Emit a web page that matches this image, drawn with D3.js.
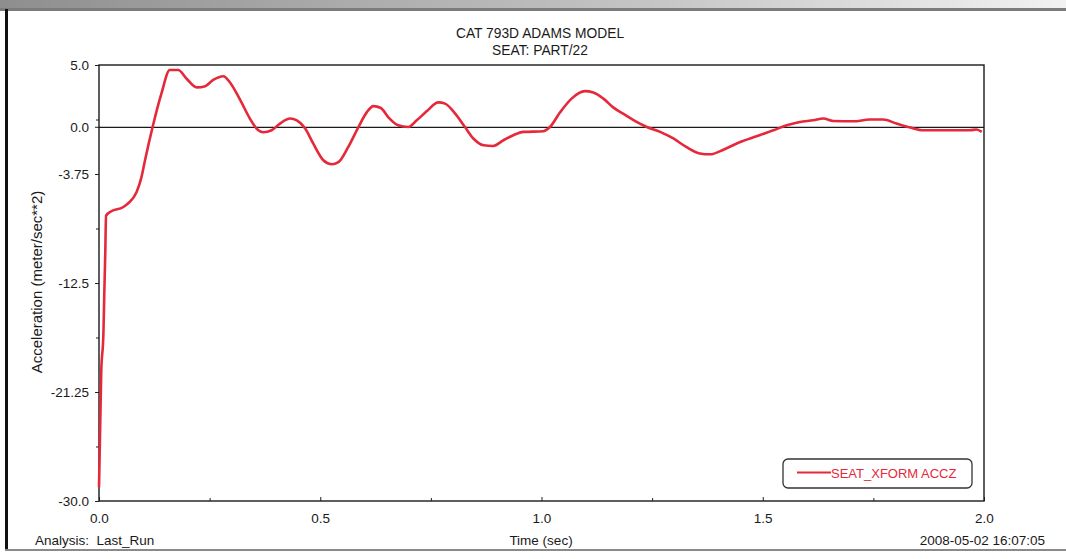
<!DOCTYPE html>
<html>
<head>
<meta charset="utf-8">
<script src="https://cdn.jsdelivr.net/npm/d3@7"></script>
<style>
  html, body { margin: 0; padding: 0; background: #fff; }
  svg { display: block; }
  text { font-family: "Liberation Sans", Arial, sans-serif; fill: #1a1a1a; }
</style>
</head>
<body>
<svg id="chart" width="1066" height="559"></svg>
<script>
// Seat vertical acceleration from the ADAMS run
const timeSec = [
  0.000, 0.005, 0.010, 0.012, 0.014, 0.016, 0.025, 0.055, 0.066, 0.085,
  0.096, 0.104, 0.121, 0.141, 0.160, 0.179, 0.198, 0.221, 0.240, 0.258,
  0.281, 0.296, 0.319, 0.341, 0.356, 0.371, 0.390, 0.409, 0.432, 0.447,
  0.466, 0.484, 0.507, 0.526, 0.541, 0.563, 0.586, 0.605, 0.620, 0.637,
  0.654, 0.676, 0.699, 0.718, 0.741, 0.767, 0.782, 0.805, 0.827, 0.846,
  0.869, 0.891, 0.914, 0.936, 0.959, 1.004, 1.019, 1.042, 1.068, 1.098,
  1.117, 1.140, 1.162, 1.189, 1.215, 1.238, 1.268, 1.298, 1.328, 1.358,
  1.381, 1.411, 1.449, 1.486, 1.524, 1.554, 1.584, 1.614, 1.637, 1.659,
  1.705, 1.742, 1.772, 1.802, 1.833, 1.863, 1.916, 1.968, 1.983, 1.995
];
const accelZ = [
  -28.9, -19.7, -16.5, -13.3, -10.4, -7.1, -6.8, -6.4, -6.1, -5.2,
  -4.0, -2.65, 0.0, 2.7, 4.6, 4.6, 3.9, 3.2, 3.3, 3.8,
  4.1, 3.6, 2.2, 0.7, -0.1, -0.4, -0.24, 0.3, 0.7, 0.56,
  -0.1, -1.3, -2.65, -2.97, -2.8, -1.6, 0.0, 1.2, 1.7, 1.55,
  0.8, 0.16, 0.02, 0.56, 1.3, 2.0, 1.9, 1.1, 0.02, -0.9,
  -1.44, -1.5, -1.04, -0.64, -0.37, -0.32, 0.02, 1.2, 2.3, 2.9,
  2.8, 2.3, 1.6, 1.0, 0.43, 0.02, -0.37, -0.9, -1.6, -2.1,
  -2.17, -1.8, -1.18, -0.72, -0.24, 0.16, 0.43, 0.56, 0.7, 0.5,
  0.48, 0.62, 0.62, 0.3, -0.02, -0.24, -0.24, -0.24, -0.18, -0.37
];

const xMajorTicks = [0.0, 0.5, 1.0, 1.5, 2.0];
const xMinorTicks = [0.25, 0.75, 1.25, 1.75];
const yMajorTicks = [5.0, -3.75, -12.5, -21.25, -30.0];
const yMinorTicks = [0.625, -8.125, -16.875, -25.625];
const yTickLabels = ["5.0", "-3.75", "-12.5", "-21.25", "-30.0"];

const titleLines = ["CAT 793D ADAMS MODEL", "SEAT: PART/22"];
const seriesName = "SEAT_XFORM ACCZ";
const lineColor = "#e5283a";

const W = 1066, H = 559;
const plot = { left: 99, right: 984, top: 65, bottom: 501 };

const svg = d3.select("#chart");

// page frame of the plot window
const grad = svg.append("defs").append("linearGradient")
  .attr("id", "topband").attr("x1", 0).attr("x2", 1).attr("y1", 0).attr("y2", 0);
grad.append("stop").attr("offset", "0%").attr("stop-color", "#8e8e8e");
grad.append("stop").attr("offset", "60%").attr("stop-color", "#c4c4c4");
grad.append("stop").attr("offset", "100%").attr("stop-color", "#f2f2f2");
svg.append("rect").attr("x", 0).attr("y", 0).attr("width", W).attr("height", 8).attr("fill", "url(#topband)");
svg.append("rect").attr("x", 0).attr("y", 8).attr("width", W).attr("height", 3).attr("fill", "#7c7c7c");
svg.append("rect").attr("x", 5).attr("y", 9).attr("width", 3).attr("height", 542).attr("fill", "#111");
svg.append("rect").attr("x", 5).attr("y", 549).attr("width", W - 5).attr("height", 2).attr("fill", "#8a8a8a");

const x = d3.scaleLinear().domain([0, 2]).range([plot.left, plot.right]);
const y = d3.scaleLinear().domain([-30, 5]).range([plot.bottom, plot.top]);

// titles, set in a slightly condensed face
svg.selectAll("text.title").data(titleLines).join("text")
  .attr("class", "title")
  .attr("transform", (d, i) => `translate(540,${38 + i * 17}) scale(0.92,1)`)
  .attr("text-anchor", "middle")
  .style("font-size", "15px")
  .text(d => d);

// y axis: labelled ticks plus half-step minor ticks
const yAxis = d3.axisLeft(y).tickValues(yMajorTicks).tickSize(4).tickPadding(6)
  .tickFormat((d, i) => yTickLabels[i]);
const gy = svg.append("g").attr("transform", `translate(${plot.left},0)`).call(yAxis);
gy.select(".domain").remove();
gy.selectAll("text").style("font-size", "13.5px").attr("fill", "#1a1a1a");
gy.selectAll("line").attr("stroke", "#222");
const gyMinor = svg.append("g").attr("transform", `translate(${plot.left},0)`)
  .call(d3.axisLeft(y).tickValues(yMinorTicks).tickSize(3).tickFormat(""));
gyMinor.select(".domain").remove();
gyMinor.selectAll("line").attr("stroke", "#222");

// the 0.0 label sits on the zero line
svg.append("text").attr("x", plot.left - 10).attr("y", y(0)).attr("dy", "0.32em")
  .attr("text-anchor", "end").style("font-size", "13.5px").text("0.0");
svg.append("line").attr("x1", plot.left - 4).attr("x2", plot.left)
  .attr("y1", y(0)).attr("y2", y(0)).attr("stroke", "#222");

// x axis: ticks point into the plot
const xAxis = d3.axisBottom(x).tickValues(xMajorTicks).tickSize(-4).tickPadding(12)
  .tickFormat(d3.format(".1f"));
const gx = svg.append("g").attr("transform", `translate(0,${plot.bottom})`).call(xAxis);
gx.select(".domain").remove();
gx.selectAll("text").style("font-size", "13.5px").attr("fill", "#1a1a1a");
gx.selectAll("line").attr("stroke", "#222");
const gxMinor = svg.append("g").attr("transform", `translate(0,${plot.bottom})`)
  .call(d3.axisBottom(x).tickValues(xMinorTicks).tickSize(-3).tickFormat(""));
gxMinor.select(".domain").remove();
gxMinor.selectAll("line").attr("stroke", "#222");

// plot frame and zero line
svg.append("rect")
  .attr("x", plot.left).attr("y", plot.top)
  .attr("width", plot.right - plot.left).attr("height", plot.bottom - plot.top)
  .attr("fill", "none").attr("stroke", "#1a1a1a").attr("stroke-width", 1.4);
svg.append("line")
  .attr("x1", plot.left).attr("x2", plot.right)
  .attr("y1", y(0)).attr("y2", y(0))
  .attr("stroke", "#1a1a1a").attr("stroke-width", 1.3);

// acceleration trace
const pts = timeSec.map((t, i) => [t, accelZ[i]]);
const line = d3.line().x(d => x(d[0])).y(d => y(d[1])).curve(d3.curveMonotoneX);
svg.append("path").datum(pts)
  .attr("d", line)
  .attr("fill", "none")
  .attr("stroke", lineColor)
  .attr("stroke-width", 2.6)
  .attr("stroke-linejoin", "round");

// axis titles and footer
svg.append("text")
  .attr("transform", "translate(42,282) rotate(-90)")
  .attr("text-anchor", "middle").style("font-size", "15px")
  .text("Acceleration (meter/sec**2)");
svg.append("text").attr("x", 541).attr("y", 545).attr("text-anchor", "middle")
  .style("font-size", "13.5px").text("Time (sec)");
svg.append("text").attr("x", 35).attr("y", 545).attr("text-anchor", "start")
  .style("font-size", "13.5px").attr("xml:space", "preserve").text("Analysis:  Last_Run");
svg.append("text").attr("x", 1045).attr("y", 545).attr("text-anchor", "end")
  .style("font-size", "13.5px").text("2008-05-02 16:07:05");

// legend
const lg = svg.append("g");
lg.append("rect").attr("x", 783).attr("y", 459).attr("width", 189).attr("height", 29)
  .attr("rx", 5).attr("fill", "#fff").attr("stroke", "#333").attr("stroke-width", 1.3);
lg.append("line").attr("x1", 797).attr("x2", 831).attr("y1", 472.5).attr("y2", 472.5)
  .attr("stroke", lineColor).attr("stroke-width", 2.2);
lg.append("text").attr("x", 831).attr("y", 477.5)
  .style("font-size", "13px").style("fill", lineColor).text(seriesName);
</script>
</body>
</html>
